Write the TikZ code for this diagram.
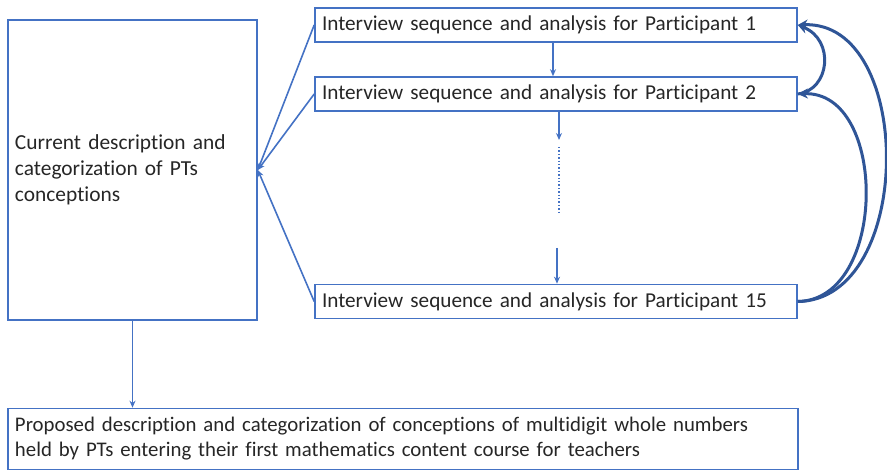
\documentclass[tikz,border=0pt]{standalone}
\usepackage{fontspec}
\setmainfont{Carlito}[Ligatures=NoCommon]
\usetikzlibrary{arrows.meta}
\definecolor{boxblue}{HTML}{4472C4}
\definecolor{darkblue}{HTML}{2F5597}
\tikzset{
  box/.style={draw=boxblue, line width=1.6pt, inner sep=7pt, align=left, text=black!85},
  partbox/.style={box, minimum width=482pt, minimum height=34pt, text width=468pt, font=\fontsize{21.2}{26}\selectfont},
  arr/.style={draw=boxblue, line width=1.6pt, -{Stealth[length=7pt,width=6pt]}},
  loop/.style={draw=darkblue, line width=3pt, -{Stealth[length=10pt,width=10pt]}}
}
\begin{document}
\begin{tikzpicture}[x=1pt, y=-1pt]
        \useasboundingbox (0,0) rectangle (887,470);
        \node[box, minimum width=249pt, minimum height=300pt, text width=235pt, font=\fontsize{21.4}{26}\selectfont] (cur) at (132.5,170) {Current description and\\categorization of PTs\\conceptions};
        \node[partbox] (p1) at (556,25) {Interview sequence and analysis for Participant 1};
        \node[partbox] (p2) at (556,94) {Interview sequence and analysis for Participant 2};
        \node[partbox] (p15) at (556,301.5) {Interview sequence and analysis for Participant 15};
        \node[box, minimum width=790pt, minimum height=61pt, text width=776pt, font=\fontsize{20.8}{25}\selectfont] (prop) at (403,439) {Proposed description and categorization of conceptions of multidigit whole numbers\\held by PTs entering their first mathematics content course for teachers};
        \coordinate (d1) at (559,140);
        \coordinate (d2) at (559,147);
        \coordinate (d3) at (559,212);
        \coordinate (d4) at (557,248);
        \draw[arr] ([xshift=-3pt]p1.south) -- ([xshift=-3pt]p2.north);
        \draw[arr] (p2.south -| d1) -- (d1);
        \draw[boxblue, line width=1.4pt, dotted] (d2) -- (d3);
        \draw[arr] (d4) -- (p15.north -| d4);
        \draw[arr] (p1.west) -- (cur.east);
        \draw[arr] (p2.west) -- (cur.east);
        \draw[arr] (p15.west) -- (cur.east);
        \draw[arr] (cur.south) -- (prop.north -| cur.south);
        \draw[loop] (p2.east) .. controls (830,90) and (835,40) .. (p1.east);
        \draw[loop] (p15.east) .. controls (915,300) and (915,20) .. (p1.east);
        \draw[loop] (p15.east) .. controls (888,300) and (888,90) .. (p2.east);
\end{tikzpicture}
\end{document}
